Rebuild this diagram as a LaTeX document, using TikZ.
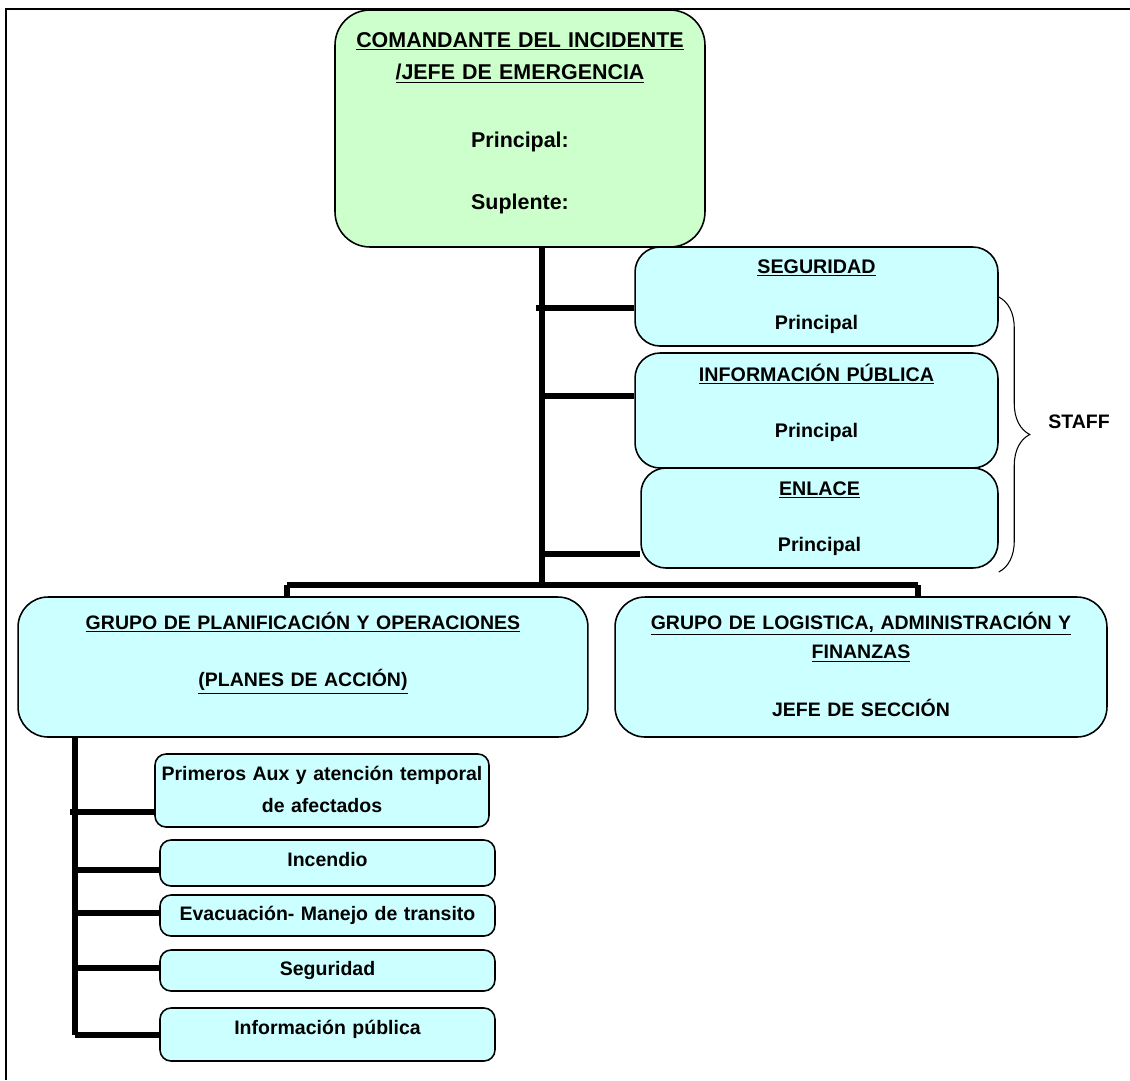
\documentclass[tikz,border=0pt]{standalone}
\usepackage{fontspec}
\setmainfont{Liberation Sans}
\usetikzlibrary{decorations.pathreplacing}
\definecolor{jefegreen}{HTML}{CCFFCC}
\definecolor{boxcyan}{HTML}{CCFFFF}

\begin{document}
\begin{tikzpicture}[x=0.02cm,y=-0.02cm]
		\tikzset{jefebox/.style = {draw,fill=jefegreen,line width=0.9pt,rounded corners=0.7cm,inner sep=0pt,align=center,font=\bfseries\fontsize{12.2}{18.7}\selectfont}}
		\tikzset{staffbox/.style = {draw,fill=boxcyan,line width=0.9pt,rounded corners=0.5cm,inner sep=0pt,align=center,font=\bfseries\fontsize{11.2}{13.4}\selectfont}}
		\tikzset{grupobox/.style = {staffbox,rounded corners=0.6cm,font=\bfseries\fontsize{11.1}{17}\selectfont}}
		\tikzset{subbox/.style = {staffbox,rounded corners=0.22cm,font=\bfseries\fontsize{11.1}{18.7}\selectfont}}
		\tikzset{link/.style = {line width=2.9pt}}
		\tikzset{spine/.style = {line width=3.8pt}}
		\useasboundingbox (0,0) rectangle (1130,1080);
		\draw[line width=1.4pt] (6,1080) -- (6,9) -- (1130,9);
		% comandante
		\node[jefebox,text width=7.4cm,text height=0.74cm,text depth=4cm] (jefe) at (520,128.5) {\underline{COMANDANTE DEL INCIDENTE}\\\underline{/JEFE DE EMERGENCIA}\\[19.8pt]Principal:\\[16.5pt]Suplente:};
		% staff
		\node[staffbox,text width=7.26cm,text height=0.52cm,text depth=1.46cm] (seg) at (816.5,296.5) {\underline{SEGURIDAD}\\[18.9pt]Principal};
		\node[staffbox,text width=7.26cm,text height=0.56cm,text depth=1.74cm] (info) at (816.5,410.5) {\underline{INFORMACIÓN PÚBLICA}\\[18.9pt]Principal};
		\node[staffbox,text width=7.14cm,text height=0.54cm,text depth=1.46cm] (enlace) at (819.5,518) {\underline{ENLACE}\\[18.9pt]Principal};
		\draw[decorate,decoration={brace,amplitude=0.62cm},line width=0.6pt] (seg.east |- 0,297) -- (seg.east |- 0,572);
		\node[font=\bfseries\fontsize{11.1}{13}\selectfont] (staff) at (1079,422) {STAFF};
		% grupos
		\node[grupobox,text width=11.4cm,text height=0.64cm,text depth=2.16cm] (planif) at (303,667) {\underline{GRUPO DE PLANIFICACIÓN Y OPERACIONES}\\[15.9pt]\underline{(PLANES DE ACCIÓN)}};
		\node[grupobox,text width=9.84cm,text height=0.64cm,text depth=2.16cm] (logist) at (861,667) {\underline{GRUPO DE LOGISTICA, ADMINISTRACIÓN Y}\\\underline{FINANZAS}\\[15.9pt]JEFE DE SECCIÓN};
		% brigadas
		\node[subbox,text width=6.68cm,text height=0.52cm,text depth=0.94cm] (auxilio) at (322,790.5) {Primeros Aux y atención temporal\\de afectados};
		\node[subbox,text width=6.7cm,text height=0.52cm,text depth=0.4cm] (incendio) at (327.5,863) {Incendio};
		\node[subbox,text width=6.7cm,text height=0.5cm,text depth=0.32cm] (evacua) at (327.5,915.5) {Evacuación- Manejo de transito};
		\node[subbox,text width=6.7cm,text height=0.5cm,text depth=0.32cm] (segur) at (327.5,970.5) {Seguridad};
		\node[subbox,text width=6.7cm,text height=0.52cm,text depth=0.54cm] (infopub) at (327.5,1034.5) {Información pública};
		% lineas
		\coordinate (trunk) at (542,585);
		\coordinate (busL) at (287,585);
		\coordinate (busR) at (918,585);
		\coordinate (base) at (75,1035);
		\draw[spine] (jefe.south -| trunk) -- (trunk);
		\draw[link] (busL) -- (busR);
		\draw[link] (busL) -- (busL |- planif.north);
		\draw[link] (busR) -- (busR |- logist.north);
		\draw[link] (536,308) -- (seg.west |- 0,308);
		\draw[link] (trunk |- 0,396) -- (info.west |- 0,396);
		\draw[link] (trunk |- 0,554) -- (enlace.west |- 0,554);
		\draw[spine] (planif.south -| base) -- (base);
		\draw[link] (70,812) -- (auxilio.west |- 0,812);
		\draw[link] (base |- 0,870) -- (incendio.west |- 0,870);
		\draw[link] (base |- 0,913) -- (evacua.west |- 0,913);
		\draw[link] (base |- 0,968) -- (segur.west |- 0,968);
		\draw[link] (base) -- (infopub.west |- base);
	\end{tikzpicture}
\end{document}
